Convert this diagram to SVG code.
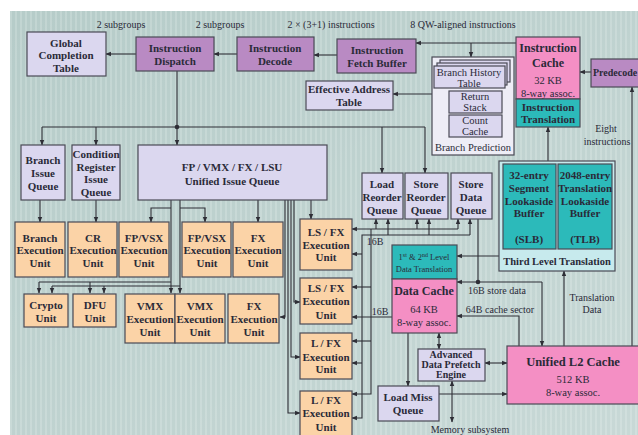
<svg xmlns="http://www.w3.org/2000/svg" width="638" height="435" viewBox="0 0 638 435">
<defs>
<pattern id="stripes" x="0" y="0" width="5" height="10" patternUnits="userSpaceOnUse">
<rect width="5" height="10" fill="#b6ccc9"/>
<rect x="0" width="2" height="10" fill="#c2d5d2"/>
</pattern>
<linearGradient id="fade" x1="0" y1="0" x2="1" y2="1">
<stop offset="0" stop-color="#ffffff" stop-opacity="0"/>
<stop offset="1" stop-color="#ffffff" stop-opacity="0.25"/>
</linearGradient>
<marker id="ah" viewBox="0 0 10 10" refX="9" refY="5" markerWidth="5" markerHeight="5" orient="auto-start-reverse">
<path d="M0,1 L10,5 L0,9 z" fill="#2e2e36"/>
</marker>
<style>
.b{stroke:#4a4a55;stroke-width:1.2}
.lav{fill:#dbd7ef}
.pur{fill:#b98ac3}
.org{fill:#fbd3a7}
.pink{fill:#f48fc4}
.teal{fill:#2cbaba}
.lcy{fill:#c7eaed}
.bpw{fill:#eeedf6}
text{font-family:"Liberation Serif","Times New Roman",serif;fill:#2a2a38;text-anchor:middle}
.t{font-weight:bold;font-size:11px}
.tl{font-weight:bold;font-size:12px}
.r{font-size:10.5px}
.lb{font-size:10px}
.c{fill:none;stroke:#2e2e36;stroke-width:1.1}
.a{marker-end:url(#ah)}
.d{marker-start:url(#ah);marker-end:url(#ah)}
</style>
</defs>
<rect width="638" height="435" fill="#ffffff"/>
<rect x="10" y="11" width="628" height="424" fill="url(#stripes)"/>
<rect x="10" y="11" width="628" height="424" fill="url(#fade)"/>

<g id="labels">
<text class="lb" x="121" y="28">2 subgroups</text>
<text class="lb" x="220" y="28">2 subgroups</text>
<text class="lb" x="331" y="28">2 × (3+1) instructions</text>
<text class="lb" x="463" y="28">8 QW-aligned instructions</text>
<text class="lb" x="606" y="132">Eight</text>
<text class="lb" x="607" y="145">instructions</text>
<text class="lb" x="592" y="301">Translation</text>
<text class="lb" x="592" y="313">Data</text>
<text class="lb" x="497" y="294">16B store data</text>
<text class="lb" x="500" y="313">64B cache sector</text>
<text class="lb" x="375" y="245">16B</text>
<text class="lb" x="380" y="315">16B</text>
<text class="lb" x="470" y="433">Memory subsystem</text>
</g>

<g id="connectors">
<path class="c a" d="M136,54 H106"/>
<path class="c a" d="M237,54 H214"/>
<path class="c a" d="M337,55 H314"/>
<path class="c a" d="M516,43 H416"/>
<path class="c a" d="M471,43 V57"/>
<path class="c a" d="M432,94 H393"/>
<path class="c a" d="M591,72 H580"/>
<path class="c a" d="M632,346 V87"/>
<path class="c a" d="M548,161 V127"/>
<path class="c a" d="M177,71 V145"/>
<path class="c" d="M42,127 H425"/>
<path class="c a" d="M42,127 V145"/>
<path class="c a" d="M96,127 V145"/>
<path class="c a" d="M382,127 V173"/>
<path class="c a" d="M425,127 V173"/>
<circle cx="177" cy="127" r="2.3" fill="#2e2e36"/>
<path class="c a" d="M40,200 V222"/>
<path class="c a" d="M96,200 V222"/>
<path class="c a" d="M171,200 V293"/>
<path class="c a" d="M171,208 H151 V222"/>
<path class="c a" d="M180,200 V293"/>
<path class="c a" d="M180,208 H205 V222"/>
<path class="c" d="M39,282 H171"/>
<path class="c a" d="M39,282 V293"/>
<path class="c a" d="M90,282 V293"/>
<path class="c" d="M52,286 H180"/>
<path class="c a" d="M52,286 V293"/>
<path class="c a" d="M104,286 V293"/>
<path class="c a" d="M258,200 V222"/>
<path class="c a" d="M311,200 V219"/>
<path class="c a" d="M285,200 V317 H280"/>
<path class="c a" d="M288,200 V413 H300"/>
<path class="c a" d="M291,200 V357 H300"/>
<path class="c a" d="M294,200 V302 H300"/>
<path class="c a" d="M458,229 H352"/>
<path class="c a" d="M376,229 V219"/>
<path class="c a" d="M417,229 V219"/>
<path class="c a" d="M458,229 V219"/>
<path class="c a" d="M371,229 V394 H352"/>
<path class="c a" d="M371,287 H352"/>
<path class="c a" d="M371,341 H352"/>
<path class="c a" d="M470,235 H362 V418 H352"/>
<path class="c a" d="M388,235 V219"/>
<path class="c a" d="M429,235 V219"/>
<path class="c a" d="M470,235 V219"/>
<path class="c a" d="M362,254 H352"/>
<path class="c a" d="M362,363 H352"/>
<path class="c a" d="M392,317 H352"/>
<path class="c a" d="M499,256 H457"/>
<path class="c" d="M478,219 V282"/>
<path class="c a" d="M542,282 H457"/>
<path class="c a" d="M542,282 V346"/>
<circle cx="478" cy="282" r="2.3" fill="#2e2e36"/>
<path class="c a" d="M519,346 V316 H457"/>
<path class="c a" d="M564,346 V271"/>
<path class="c d" d="M439,333 V349"/>
<path class="c d" d="M485,363 H507"/>
<path class="c d" d="M452,381 V422"/>
<path class="c a" d="M439,394 H507"/>
<path class="c a" d="M408,333 V386"/>
</g>

<g id="gct"><rect class="b lav" x="27" y="32" width="79" height="44"/>
<text class="t" x="66" y="47">Global</text><text class="t" x="66" y="59">Completion</text><text class="t" x="66" y="72">Table</text></g>
<g id="dispatch"><rect class="b pur" x="136" y="37" width="78" height="34"/>
<text class="t" x="175" y="52">Instruction</text><text class="t" x="175" y="65">Dispatch</text></g>
<g id="decode"><rect class="b pur" x="237" y="37" width="77" height="34"/>
<text class="t" x="275" y="52">Instruction</text><text class="t" x="275" y="65">Decode</text></g>
<g id="fetchbuf"><rect class="b pur" x="337" y="39" width="79" height="34"/>
<text class="t" x="377" y="54">Instruction</text><text class="t" x="377" y="67">Fetch Buffer</text></g>
<g id="eat"><rect class="b lav" x="306" y="81" width="87" height="29"/>
<text class="t" x="349" y="93">Effective Address</text><text class="t" x="349" y="106">Table</text></g>

<g id="icache"><rect class="b pink" x="516" y="37" width="64" height="62"/>
<text class="tl" x="548" y="52">Instruction</text><text class="tl" x="548" y="67">Cache</text>
<text class="r" x="548" y="84">32 KB</text><text class="r" x="548" y="97">8-way assoc.</text></g>
<g id="itrans"><rect class="b teal" x="516" y="99" width="64" height="28"/>
<text class="t" x="548" y="111">Instruction</text><text class="t" x="548" y="123">Translation</text></g>
<g id="predecode"><rect class="b pur" x="591" y="59" width="50" height="28"/>
<text class="t" x="593" y="76" style="text-anchor:start;font-size:10px">Predecode</text></g>

<g id="branchpred"><rect class="b bpw" x="432" y="57" width="82" height="98"/>
<rect class="b lav" x="440" y="60" width="70" height="22"/>
<rect class="b lav" x="437" y="63" width="70" height="22"/>
<rect class="b lav" x="434" y="66" width="71" height="22"/>
<text class="r" x="469" y="76">Branch History</text><text class="r" x="469" y="87">Table</text>
<rect class="b lav" x="449" y="91" width="53" height="22"/>
<text class="r" x="475" y="100">Return</text><text class="r" x="475" y="111">Stack</text>
<rect class="b lav" x="449" y="115" width="53" height="22"/>
<text class="r" x="475" y="124">Count</text><text class="r" x="475" y="135">Cache</text>
<text class="r" x="473" y="151">Branch Prediction</text></g>

<g id="biq"><rect class="b lav" x="21" y="145" width="44" height="55"/>
<text class="t" x="43" y="164">Branch</text><text class="t" x="43" y="177">Issue</text><text class="t" x="43" y="190">Queue</text></g>
<g id="criq"><rect class="b lav" x="72" y="145" width="48" height="55"/>
<text class="t" x="96" y="158">Condition</text><text class="t" x="96" y="171">Register</text><text class="t" x="96" y="183">Issue</text><text class="t" x="96" y="196">Queue</text></g>
<g id="uiq"><rect class="b lav" x="138" y="145" width="189" height="55"/>
<text class="t" x="232" y="171">FP / VMX / FX / LSU</text><text class="t" x="232" y="185">Unified Issue Queue</text></g>

<g id="lrq"><rect class="b lav" x="362" y="173" width="41" height="46"/>
<text class="t" x="382" y="188">Load</text><text class="t" x="382" y="201">Reorder</text><text class="t" x="382" y="214">Queue</text></g>
<g id="srq"><rect class="b lav" x="405" y="173" width="43" height="46"/>
<text class="t" x="426" y="188">Store</text><text class="t" x="426" y="201">Reorder</text><text class="t" x="426" y="214">Queue</text></g>
<g id="sdq"><rect class="b lav" x="451" y="173" width="41" height="46"/>
<text class="t" x="471" y="188">Store</text><text class="t" x="471" y="201">Data</text><text class="t" x="471" y="214">Queue</text></g>

<g id="tlt"><rect class="b lcy" x="499" y="161" width="116" height="110"/>
<rect class="b teal" x="503" y="164" width="53" height="85"/>
<text class="t" x="529" y="179">32-entry</text><text class="t" x="529" y="192">Segment</text><text class="t" x="529" y="205">Lookaside</text><text class="t" x="529" y="217">Buffer</text><text class="t" x="529" y="243">(SLB)</text>
<rect class="b teal" x="558" y="164" width="54" height="85"/>
<text class="t" x="585" y="179">2048-entry</text><text class="t" x="585" y="192">Translation</text><text class="t" x="585" y="205">Lookaside</text><text class="t" x="585" y="217">Buffer</text><text class="t" x="585" y="243">(TLB)</text>
<text class="t" x="557" y="265" style="font-size:10.5px">Third Level Translation</text></g>

<g id="beu"><rect class="b org" x="15" y="222" width="50" height="55"/>
<text class="t" x="40" y="242">Branch</text><text class="t" x="40" y="254">Execution</text><text class="t" x="40" y="267">Unit</text></g>
<g id="creu"><rect class="b org" x="68" y="222" width="49" height="55"/>
<text class="t" x="93" y="242">CR</text><text class="t" x="93" y="254">Execution</text><text class="t" x="93" y="267">Unit</text></g>
<g id="fpvsx1"><rect class="b org" x="119" y="222" width="50" height="55"/>
<text class="t" x="144" y="242">FP/VSX</text><text class="t" x="144" y="254">Execution</text><text class="t" x="144" y="267">Unit</text></g>
<g id="fpvsx2"><rect class="b org" x="182" y="222" width="49" height="55"/>
<text class="t" x="207" y="242">FP/VSX</text><text class="t" x="207" y="254">Execution</text><text class="t" x="207" y="267">Unit</text></g>
<g id="fx1"><rect class="b org" x="233" y="222" width="50" height="55"/>
<text class="t" x="258" y="242">FX</text><text class="t" x="258" y="254">Execution</text><text class="t" x="258" y="267">Unit</text></g>

<g id="crypto"><rect class="b org" x="24" y="294" width="44" height="33"/>
<text class="t" x="46" y="309">Crypto</text><text class="t" x="46" y="322">Unit</text></g>
<g id="dfu"><rect class="b org" x="73" y="294" width="43" height="33"/>
<text class="t" x="95" y="309">DFU</text><text class="t" x="95" y="322">Unit</text></g>
<g id="vmx1"><rect class="b org" x="125" y="294" width="50" height="49"/>
<text class="t" x="150" y="310">VMX</text><text class="t" x="150" y="323">Execution</text><text class="t" x="150" y="336">Unit</text></g>
<g id="vmx2"><rect class="b org" x="175" y="294" width="50" height="49"/>
<text class="t" x="200" y="310">VMX</text><text class="t" x="200" y="323">Execution</text><text class="t" x="200" y="336">Unit</text></g>
<g id="fx2"><rect class="b org" x="228" y="294" width="51" height="49"/>
<text class="t" x="254" y="310">FX</text><text class="t" x="254" y="323">Execution</text><text class="t" x="254" y="336">Unit</text></g>

<g id="lsfx1"><rect class="b org" x="300" y="219" width="52" height="51"/>
<text class="t" x="326" y="236">LS / FX</text><text class="t" x="326" y="249">Execution</text><text class="t" x="326" y="261">Unit</text></g>
<g id="lsfx2"><rect class="b org" x="300" y="278" width="52" height="46"/>
<text class="t" x="326" y="292">LS / FX</text><text class="t" x="326" y="305">Execution</text><text class="t" x="326" y="319">Unit</text></g>
<g id="lfx1"><rect class="b org" x="300" y="333" width="52" height="46"/>
<text class="t" x="326" y="347">L / FX</text><text class="t" x="326" y="361">Execution</text><text class="t" x="326" y="373">Unit</text></g>
<g id="lfx2"><rect class="b org" x="300" y="391" width="52" height="46"/>
<text class="t" x="326" y="404">L / FX</text><text class="t" x="326" y="417">Execution</text><text class="t" x="326" y="431">Unit</text></g>

<g id="dtrans"><rect class="b teal" x="392" y="245" width="65" height="34"/>
<text x="424" y="260" style="font-size:8.5px">1<tspan dy="-3" style="font-size:6px">st</tspan><tspan dy="3"> &amp; 2</tspan><tspan dy="-3" style="font-size:6px">nd</tspan><tspan dy="3"> Level</tspan></text>
<text x="424" y="272" style="font-size:8.5px">Data Translation</text></g>
<g id="dcache"><rect class="b pink" x="392" y="279" width="65" height="54"/>
<text class="tl" x="424" y="295">Data Cache</text><text class="r" x="424" y="313">64 KB</text><text class="r" x="424" y="326">8-way assoc.</text></g>

<g id="adpe"><rect class="b lav" x="418" y="349" width="67" height="32"/>
<text class="t" x="451" y="358" style="font-size:10px">Advanced</text><text class="t" x="451" y="368" style="font-size:10px">Data Prefetch</text><text class="t" x="451" y="378" style="font-size:10px">Engine</text></g>
<g id="lmq"><rect class="b lav" x="378" y="386" width="61" height="35"/>
<text class="t" x="408" y="401">Load Miss</text><text class="t" x="408" y="414">Queue</text></g>
<g id="l2"><rect class="b pink" x="507" y="346" width="134" height="58"/>
<text class="tl" x="573" y="366" style="font-size:12.5px">Unified L2 Cache</text><text class="r" x="573" y="383">512 KB</text><text class="r" x="573" y="396">8-way assoc.</text></g>
</svg>
